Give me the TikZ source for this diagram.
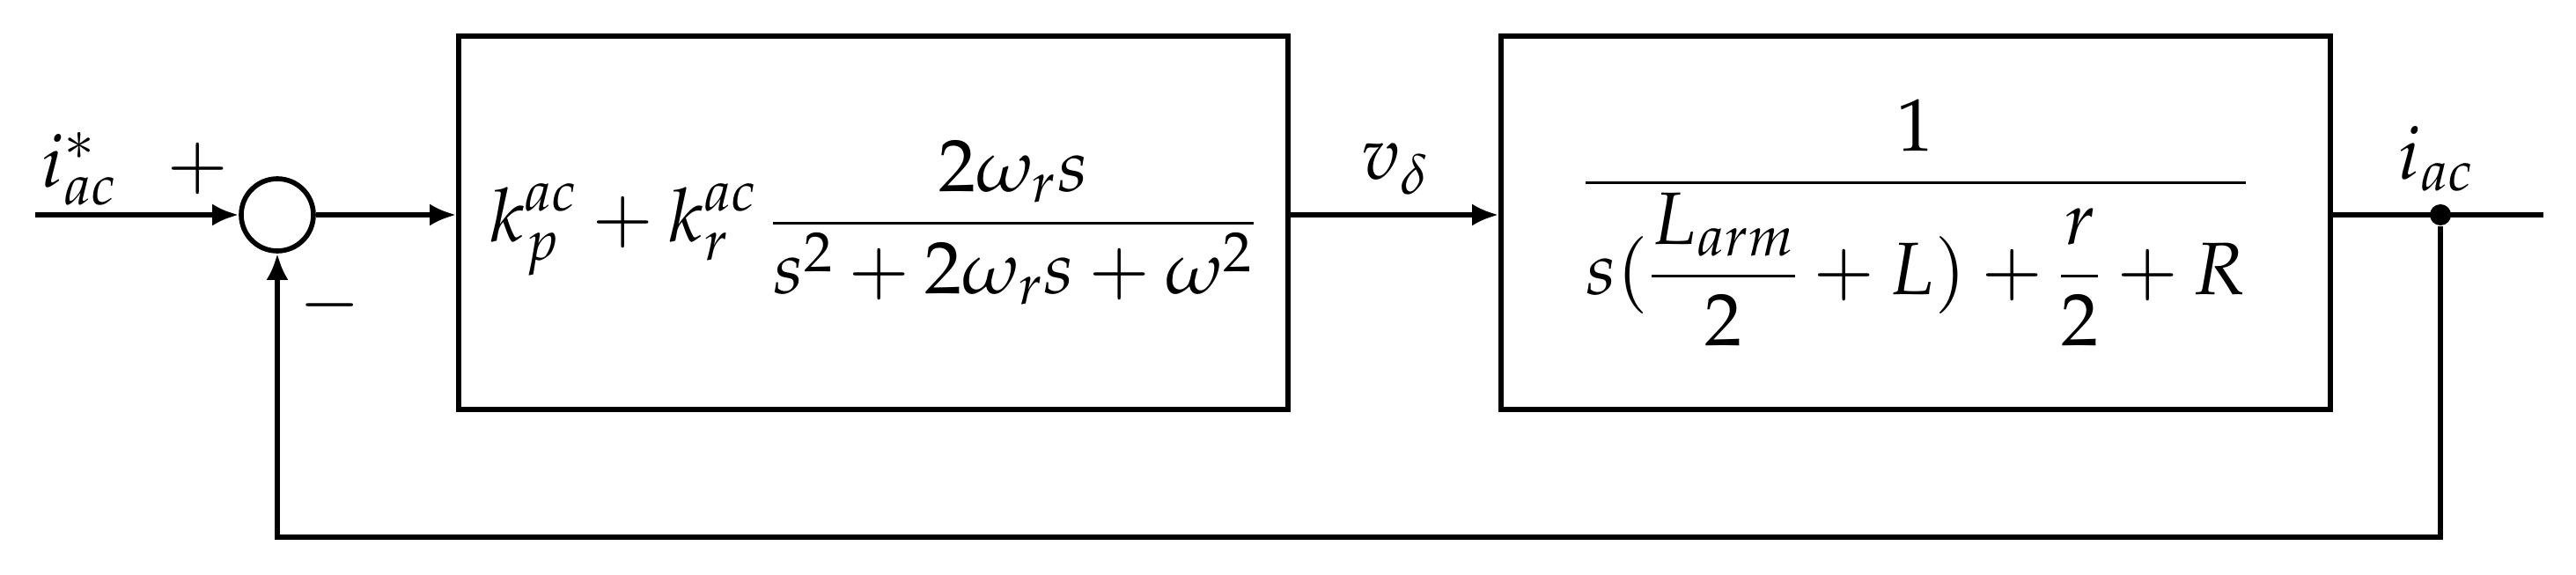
\documentclass[tikz,border=0pt]{standalone}
\usepackage{amsmath}
\usepackage{mathpazo}
\usetikzlibrary{arrows.meta}
\begin{document}
\begin{tikzpicture}[font=\fontsize{24}{29}\selectfont,
  blk/.style={draw,line width=1.6pt,minimum width=9.42cm,minimum height=4.24cm,inner sep=0},
  ln/.style={line width=1.6pt},
  arr/.style={ln,-{Latex[length=0.3cm,width=0.25cm]}}]
\useasboundingbox (0,0) rectangle (29.26,6.52);
\node[blk] (b1) at (9.92,3.99) {$\displaystyle k_p^{ac}+k_r^{ac}\,\frac{2\omega_r s}{s^2+2\omega_r s+\omega^2}$};
\node[blk] (b2) at (21.76,3.99) {$\displaystyle \frac{1}{s(\dfrac{L_{arm}}{2}+L)+\dfrac{r}{2}+R}$};
\node[draw,circle,ln,minimum size=0.82cm,inner sep=0] (sum) at (3.15,4.08) {};
\coordinate (in) at (0.4,4.08);
\coordinate (out) at (28.89,4.08);
\node[fill,circle,inner sep=0,minimum size=0.24cm] (dot) at (27.72,4.08) {};
\coordinate (fb) at (27.72,0.42);
\draw[arr] (in) -- (sum);
\draw[arr] (sum) -- (sum -| b1.west);
\draw[arr] (b1.east |- sum) -- (b2.west |- sum);
\draw[ln] (b2.east |- sum) -- (out);
\draw[arr] (dot) -- (fb) -| (sum);
\node (iref) at (0.9,4.6) {$i_{ac}^{*}$};
\node (plus) at (2.25,4.6) {$+$};
\node (minus) at (3.75,3.05) {$-$};
\node (vd) at (15.85,4.6) {$v_\delta$};
\node (iac) at (27.67,4.72) {$i_{ac}$};
\end{tikzpicture}
\end{document}
